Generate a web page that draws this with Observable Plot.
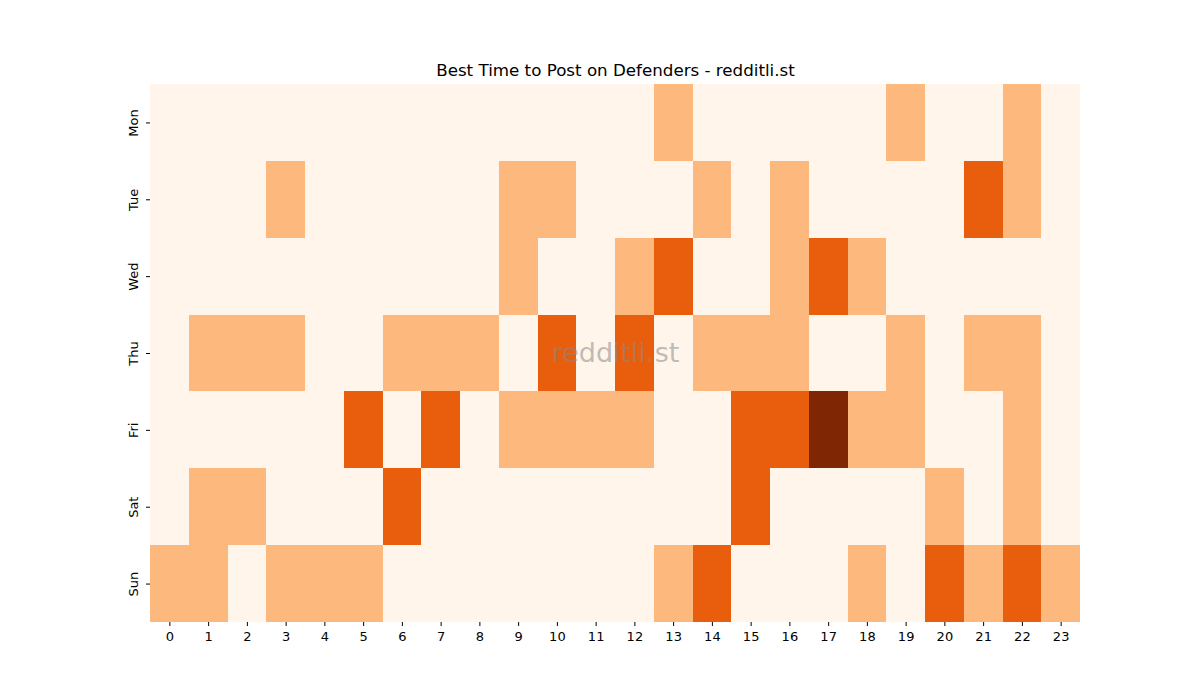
<!DOCTYPE html>
<html>
<head>
<meta charset="utf-8">
<script src="https://cdn.jsdelivr.net/npm/d3@7"></script>
<script src="https://cdn.jsdelivr.net/npm/@observablehq/plot@0.6"></script>
<style>
  body { margin: 0; background: #fff; }
</style>
</head>
<body>
<div id="chart"></div>
<script>
const days = ["Mon", "Tue", "Wed", "Thu", "Fri", "Sat", "Sun"];
const hours = Array.from({length: 24}, (_, i) => i);
const mon = [0,0,0,0,0,0,0,0,0,0,0,0,0,1,0,0,0,0,0,1,0,0,1,0];
const tue = [0,0,0,1,0,0,0,0,0,1,1,0,0,0,1,0,1,0,0,0,0,2,1,0];
const wed = [0,0,0,0,0,0,0,0,0,1,0,0,1,2,0,0,1,2,1,0,0,0,0,0];
const thu = [0,1,1,1,0,0,1,1,1,0,2,0,2,0,1,1,1,0,0,1,0,1,1,0];
const fri = [0,0,0,0,0,2,0,2,0,1,1,1,1,0,0,2,2,3,1,1,0,0,1,0];
const sat = [0,1,1,0,0,0,2,0,0,0,0,0,0,0,0,2,0,0,0,0,1,0,1,0];
const sun = [1,1,0,1,1,1,0,0,0,0,0,0,0,1,2,0,0,0,1,0,2,1,2,1];
const levels = [0, 1, 2, 3];
const palette = ["#fff5eb", "#fdb97d", "#e95e0d", "#7f2704"];
const title = "Best Time to Post on Defenders - redditli.st";
const watermark = "redditli.st";

const rows = [mon, tue, wed, thu, fri, sat, sun];
const data = [];
rows.forEach((r, di) => r.forEach((v, h) => data.push({day: days[di], hour: h, value: v})));

const chart = Plot.plot({
  width: 1200,
  height: 700,
  marginLeft: 150,
  marginRight: 120,
  marginTop: 84,
  marginBottom: 78,
  style: {fontFamily: "DejaVu Sans", fontSize: "13px", background: "#fff", color: "#000"},
  x: {type: "band", domain: hours, padding: 0, round: false, label: null, tickSize: 4, tickPadding: 5},
  y: {type: "band", domain: days, padding: 0, round: false, label: null, tickSize: 4, tickPadding: 9, tickRotate: -90},
  color: {type: "ordinal", domain: levels, range: palette},
  marks: [
    Plot.cell(data, {x: "hour", y: "day", fill: "value", inset: 0, shapeRendering: "crispEdges"}),
    Plot.text([watermark], {frameAnchor: "middle", fontSize: 27, fill: "#888", fillOpacity: 0.55}),
    Plot.text([title], {frameAnchor: "top", dy: -20, fontSize: 16.7, fill: "#000"})
  ]
});
document.getElementById("chart").appendChild(chart);
</script>
</body>
</html>
